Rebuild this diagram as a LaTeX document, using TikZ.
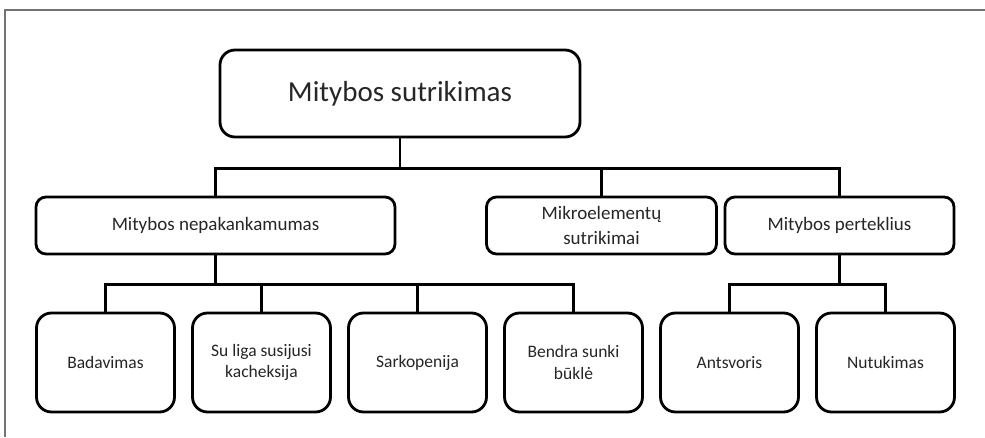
\documentclass[tikz,border=0pt]{standalone}
\usepackage{fontspec}
\setmainfont{Carlito}
\begin{document}
\begin{tikzpicture}[x=1pt,y=1pt,
  box/.style={draw=black, line width=2.8pt, fill=white, align=center,
    inner sep=0pt, text=black!85},
  topbox/.style={box, rounded corners=15pt, minimum width=360pt, minimum height=87pt,
    font=\fontsize{29}{35}\selectfont},
  midbox/.style={box, rounded corners=10pt, minimum height=57pt,
    font=\fontsize{19}{24.5}\selectfont},
  leafbox/.style={box, rounded corners=15pt, minimum width=138pt, minimum height=99pt,
    font=\fontsize{17.5}{21.5}\selectfont},
  link/.style={draw=black, line width=2.8pt},
  frameline/.style={draw=black!55, line width=1.2pt}
]
\useasboundingbox (0,0) rectangle (985,437);

% page frame (top and left edges)
\draw[frameline] (985,427) -- (5,427) -- (5,0);

% root
\node[topbox] (root) at (400,343.5) {Mitybos sutrikimas};

% second level
\node[midbox, minimum width=359pt] (nep) at (215.5,211.5) {Mitybos nepakankamumas};
\node[midbox, minimum width=230pt] (mik) at (601.5,211.5) {Mikroelementų\\sutrikimai};
\node[midbox, minimum width=229pt] (per) at (839.5,211.5) {Mitybos perteklius};

% leaves
\node[leafbox] (bad) at (105.5,74.5) {Badavimas};
\node[leafbox] (kach) at (261.5,74.5) {Su liga susijusi\\kacheksija};
\node[leafbox] (sark) at (417.5,74.5) {Sarkopenija};
\node[leafbox] (bend) at (573.5,74.5) {Bendra sunki\\būklė};
\node[leafbox] (ants) at (729.5,74.5) {Antsvoris};
\node[leafbox] (nut) at (885.5,74.5) {Nutukimas};

% connectors: root to second level
\draw[link] (root.south) -- ++(0,-30) coordinate (j1);
\draw[link] (j1) -| (nep.north);
\draw[link] (j1) -| (mik.north);
\draw[link] (j1) -| (per.north);

% connectors: undernutrition branch
\draw[link] (nep.south) -- ++(0,-29) coordinate (j2);
\draw[link] (j2) -| (bad.north);
\draw[link] (j2) -| (kach.north);
\draw[link] (j2) -| (sark.north);
\draw[link] (j2) -| (bend.north);

% connectors: overnutrition branch
\draw[link] (per.south) -- ++(0,-29) coordinate (j3);
\draw[link] (j3) -| (ants.north);
\draw[link] (j3) -| (nut.north);
\end{tikzpicture}
\end{document}
